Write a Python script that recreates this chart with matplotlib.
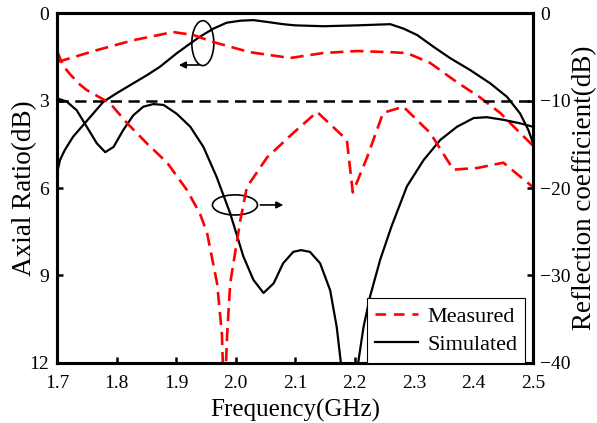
import matplotlib.pyplot as plt
from matplotlib.patches import Ellipse
from matplotlib.lines import Line2D

plt.rcParams['font.family'] = ['Liberation Serif', 'DejaVu Serif']

# axial ratio (dB), simulated
ar_sim_f = [1.700, 1.705, 1.713, 1.727, 1.744, 1.761, 1.778, 1.800, 1.828, 1.851,
            1.873, 1.901, 1.924, 1.940, 1.963, 1.985, 2.008, 2.030, 2.052, 2.080,
            2.100, 2.148, 2.204, 2.260, 2.282, 2.305, 2.333, 2.361, 2.394, 2.428,
            2.456, 2.478, 2.492, 2.500]
ar_sim = [5.50, 5.04, 4.70, 4.24, 3.84, 3.44, 3.04, 2.75, 2.41, 2.13,
          1.84, 1.38, 1.04, 0.81, 0.53, 0.33, 0.26, 0.24, 0.30, 0.38,
          0.42, 0.45, 0.42, 0.38, 0.53, 0.75, 1.16, 1.55, 1.95, 2.41,
          2.87, 3.44, 4.01, 4.47]

# axial ratio (dB), measured
ar_mea_f = [1.700, 1.767, 1.828, 1.895, 1.929, 1.962, 2.024, 2.092, 2.147, 2.204,
            2.260, 2.288, 2.327, 2.372, 2.410, 2.445, 2.478, 2.500]
ar_mea = [1.68, 1.27, 0.93, 0.65, 0.75, 0.99, 1.34, 1.54, 1.37, 1.30,
          1.34, 1.37, 1.71, 2.37, 2.88, 3.43, 4.11, 4.55]

# reflection coefficient (dB), simulated
s11_sim_f = [1.700, 1.716, 1.733, 1.750, 1.767, 1.781, 1.795, 1.811, 1.828, 1.845,
             1.862, 1.879, 1.901, 1.924, 1.946, 1.968, 1.991, 2.013, 2.030, 2.047,
             2.064, 2.080, 2.097, 2.110, 2.125, 2.142, 2.159, 2.170, 2.177, 2.1915,
             2.206, 2.215, 2.226, 2.243, 2.262, 2.288, 2.316, 2.344, 2.372, 2.400,
             2.422, 2.450, 2.478, 2.500]
s11_sim = [-9.75, -10.1, -11.1, -13.0, -14.9, -15.9, -15.3, -13.4, -11.7, -10.7,
           -10.4, -10.5, -11.5, -13.0, -15.3, -18.7, -22.9, -27.8, -30.5, -32.0,
           -30.9, -28.6, -27.3, -27.1, -27.3, -28.6, -31.7, -35.9, -40.0, -52.0,
           -40.0, -35.9, -32.4, -28.2, -24.4, -19.8, -16.8, -14.5, -13.0, -12.0,
           -11.9, -12.2, -12.6, -13.0]

# reflection coefficient (dB), measured
s11_mea_f = [1.700, 1.710, 1.722, 1.739, 1.750, 1.789, 1.818, 1.851, 1.885, 1.918,
             1.940, 1.952, 1.969, 1.977, 1.981, 1.986, 1.991, 2.008, 2.019, 2.053,
             2.097, 2.137, 2.187, 2.197, 2.221, 2.248, 2.282, 2.327, 2.366, 2.407,
             2.450, 2.489, 2.500]
s11_mea = [-4.3, -6.0, -7.0, -8.2, -8.8, -10.3, -12.6, -14.9, -17.1, -20.2,
           -22.9, -25.1, -30.9, -36.6, -45.0, -36.6, -30.9, -23.7, -19.9, -16.5,
           -13.7, -11.3, -14.5, -20.5, -16.5, -11.4, -10.7, -13.7, -17.9, -17.7,
           -17.1, -19.3, -19.9]

ar_limit = 3

fig = plt.figure(figsize=(5.97, 4.23), dpi=100)
ax = fig.add_axes([0.0955, 0.142, 0.7975, 0.827])
ax2 = ax.twinx()

dash = (5, 2.6)
ax.plot(ar_sim_f, ar_sim, color='black', lw=1.6)
ax.plot(ar_mea_f, ar_mea, color='red', lw=1.9, dashes=dash)
ax.plot([1.7, 2.5], [ar_limit, ar_limit], color='black', lw=1.8, dashes=(4.5, 2.6))
ax2.plot(s11_sim_f, s11_sim, color='black', lw=1.6)
ax2.plot(s11_mea_f, s11_mea, color='red', lw=1.9, dashes=dash)

ax.set_xlim(1.7, 2.5)
ax.set_ylim(12, 0)
ax2.set_ylim(-40, 0)
ax.set_xticks([1.7, 1.8, 1.9, 2.0, 2.1, 2.2, 2.3, 2.4, 2.5])
ax.set_yticks([0, 3, 6, 9, 12])
ax2.set_yticks([0, -10, -20, -30, -40])

for a in (ax, ax2):
    for s in a.spines.values():
        s.set_linewidth(2.2)
    a.tick_params(direction='in', length=4, width=1.8, labelsize=14, pad=6)
ax.tick_params(axis='x', pad=9)
ax2.tick_params(axis='y', pad=5)

ax.set_xlabel('Frequency(GHz)', fontsize=18, labelpad=5)
ax.set_ylabel('Axial Ratio(dB)', fontsize=19.5)
ax.yaxis.set_label_coords(-0.042, 0.5)
ax2.set_ylabel('Reflection coefficient(dB)', fontsize=19.5)
ax2.yaxis.set_label_coords(1.082, 0.5)

# curve group markers
ax.add_patch(Ellipse((1.945, 1.03), 0.037, 1.54, fill=False, color='black', lw=1.2))
ax.annotate('', xy=(1.900, 1.78), xytext=(1.943, 1.78),
            arrowprops=dict(arrowstyle='-|>', color='black', lw=1.2, mutation_scale=10))
ax.add_patch(Ellipse((1.999, 6.58), 0.0756, 0.69, fill=False, color='black', lw=1.2))
ax.annotate('', xy=(2.085, 6.58), xytext=(2.037, 6.58),
            arrowprops=dict(arrowstyle='-|>', color='black', lw=1.2, mutation_scale=10))

handles = [Line2D([], [], color='red', lw=1.9, dashes=(4, 3)),
           Line2D([], [], color='black', lw=1.6)]
leg = ax2.legend(handles, ['Measured', 'Simulated'], loc='lower right',
                 bbox_to_anchor=(0.983, 0.0), fontsize=16, frameon=True,
                 fancybox=False, edgecolor='black', framealpha=1,
                 borderaxespad=0, handlelength=1.95, handletextpad=0.4,
                 borderpad=0.35, labelspacing=0.35)
leg.get_frame().set_linewidth(0.8)

fig.savefig('out.png', dpi=100)
